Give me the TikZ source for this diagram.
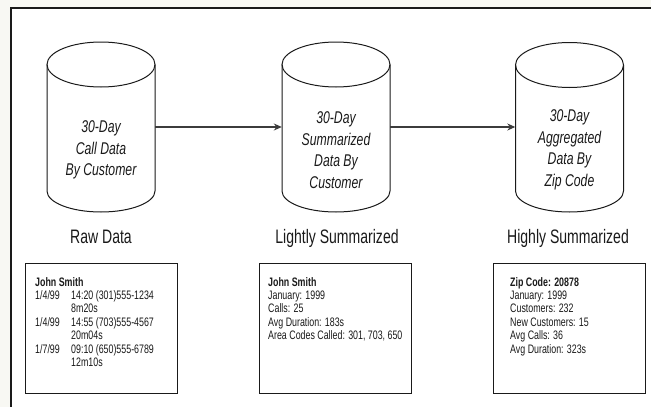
\documentclass[tikz,border=0pt]{standalone}
\usepackage{fontspec}
\setmainfont{Liberation Sans}[FakeStretch=0.72]
\usetikzlibrary{arrows.meta}
\definecolor{bgpaper}{HTML}{F8F8F3}
\definecolor{ink}{HTML}{1A1A1A}
\tikzset{
  cyltext/.style={font=\fontsize{17}{21.5}\selectfont\itshape, align=center, text=ink},
  cylbox/.style={minimum width=108pt, minimum height=170pt, inner sep=0pt},
  heading/.style={font=\fontsize{19.5}{22}\selectfont, text=ink, anchor=base},
  infobox/.style={draw=ink, line width=0.9pt, minimum width=152pt, minimum height=130pt, inner sep=0pt},
  infotext/.style={font=\fontsize{12.3}{13.4}\selectfont, align=left, anchor=north west, inner sep=0pt, text=ink},
  flow/.style={draw=ink!85, line width=1.1pt, -{Stealth[length=8pt,width=7pt]}},
  cylline/.style={draw=ink, line width=1pt},
}
\newcommand{\drawcyl}[3]{% cx, top cy, bottom cy
  \fill[white] (#1-54,#2) -- (#1-54,#3) arc[start angle=180,end angle=360,x radius=54,y radius=-21] -- (#1+54,#2) arc[start angle=0,end angle=180,x radius=54,y radius=-22.5] -- cycle;
  \draw[cylline] (#1,#2) ellipse[x radius=54,y radius=22.5];
  \draw[cylline] (#1-54,#2) -- (#1-54,#3) arc[start angle=180,end angle=360,x radius=54,y radius=-21] -- (#1+54,#2);
}
\newcommand{\datecol}[1]{\makebox[36pt][l]{#1}}
\begin{document}
\begin{tikzpicture}[x=1pt,y=-1pt]
\useasboundingbox (0,0) rectangle (651,407);
\fill[bgpaper] (0,0) rectangle (651,407);
\fill[white] (11,8) rectangle (652,408);
\draw[ink, line width=2pt] (11,409) -- (11,8) -- (652,8);

% cylinders
\drawcyl{101}{64.5}{191}
\drawcyl{336}{64.5}{191}
\drawcyl{569.5}{65}{191}

\node[cylbox] (c1) at (101,127) {};
\node[cylbox] (c2) at (336,127) {};
\node[cylbox] (c3) at (569.5,127) {};

\node[cyltext] (t1) at (101,150) {30-Day\\Call Data\\By Customer};
\node[cyltext] (t2) at (336,150) {30-Day\\Summarized\\Data By\\Customer};
\node[cyltext] (t3) at (569.5,150) {30-Day\\Aggregated\\Data By\\Zip Code};

\draw[flow] (c1.east) -- (c2.west);
\draw[flow] (c2.east) -- (c3.west);

% headings
\node[heading] (h1) at (101,243) {Raw Data};
\node[heading] (h2) at (337,243) {Lightly Summarized};
\node[heading] (h3) at (568,243) {Highly Summarized};

% boxes
\node[infobox] (b1) at (101.5,328) {};
\node[infobox] (b2) at (335,328) {};
\node[infobox] (b3) at (569.5,328) {};

\node[infotext] (x1) at (35,277) {\textbf{John Smith}\\
\datecol{1/4/99}14:20 (301)555-1234\\
\datecol{}8m20s\\
\datecol{1/4/99}14:55 (703)555-4567\\
\datecol{}20m04s\\
\datecol{1/7/99}09:10 (650)555-6789\\
\datecol{}12m10s};
\node[infotext] (x2) at (268,277) {\textbf{John Smith}\\January: 1999\\Calls: 25\\Avg Duration: 183s\\Area Codes Called: 301, 703, 650};
\node[infotext] (x3) at (510,277) {\textbf{Zip Code: 20878}\\January: 1999\\Customers: 232\\New Customers: 15\\Avg Calls: 36\\Avg Duration: 323s};
\end{tikzpicture}
\end{document}
